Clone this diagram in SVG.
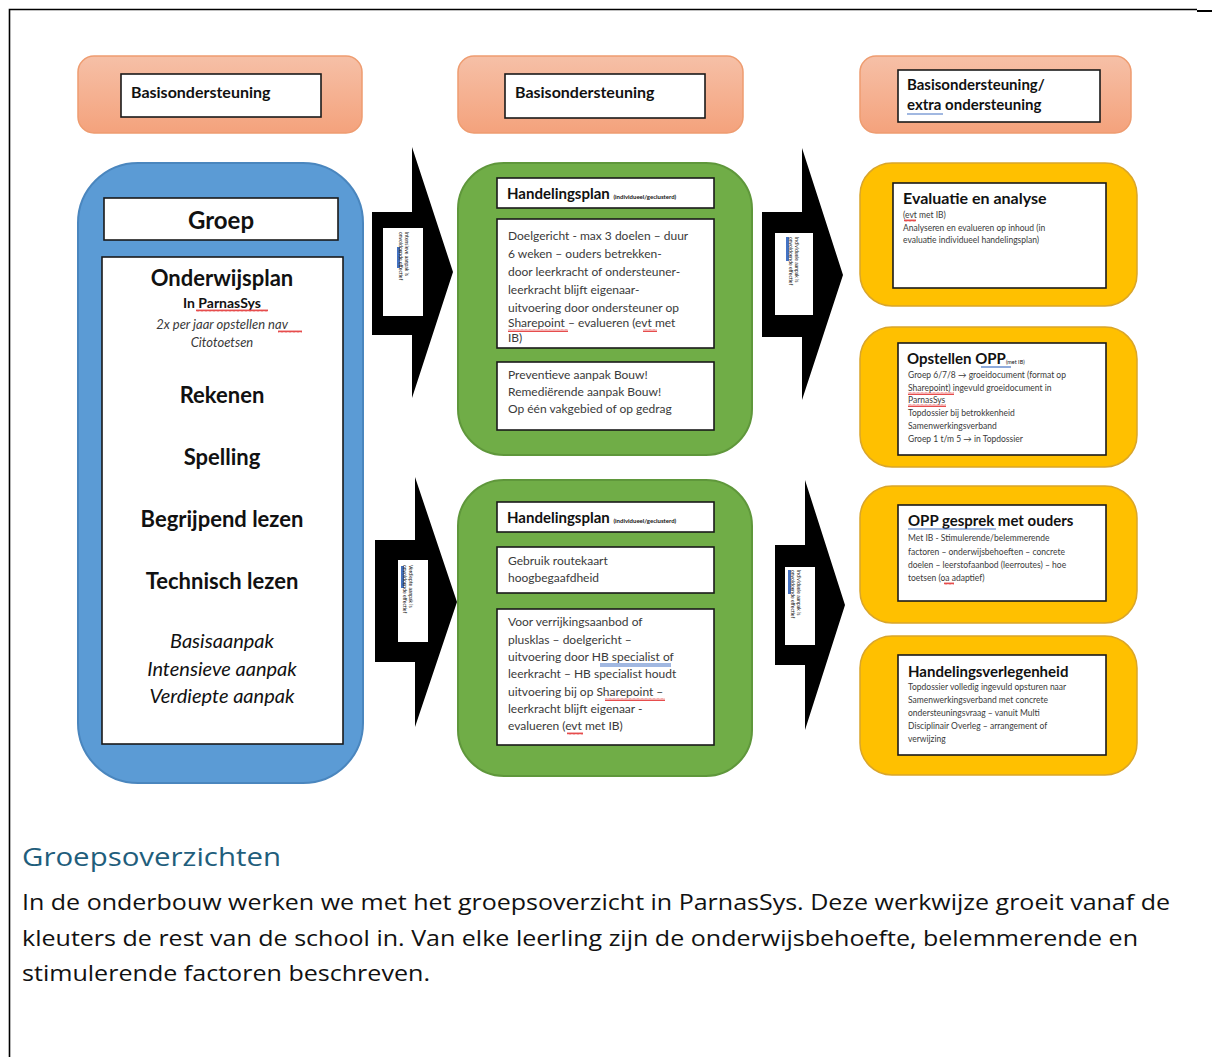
<svg xmlns="http://www.w3.org/2000/svg" width="1212" height="1057" viewBox="0 0 1212 1057">
<style>
.frame{stroke:#000;stroke-width:1.6;fill:none}
.hdr{fill:url(#orange);stroke:#EE9C70;stroke-width:1.5}
.wbox{fill:#fff;stroke:#1a1a1a;stroke-width:1.6}
.blue{fill:#5B9BD5;stroke:#4A86BE;stroke-width:2}
.green{fill:#70AD47;stroke:#5F973B;stroke-width:2}
.yellow{fill:#FFC000;stroke:#D9A52A;stroke-width:1.5}
.arrow{fill:#000}
.t{font-family:Lato,"Liberation Sans",sans-serif;fill:#111}
.b{font-weight:bold}
.i{font-style:italic}
.g{fill:#3a3a3a}
.sq{fill:url(#squig)}
.ul{stroke:#4472C4;stroke-width:1.2}
</style>
<defs>
<linearGradient id="orange" x1="0" y1="0" x2="0" y2="1">
<stop offset="0" stop-color="#F6C0A7"/>
<stop offset="1" stop-color="#F4A27C"/>
</linearGradient>
<pattern id="squig" width="4" height="3" patternUnits="userSpaceOnUse">
<path d="M0,2.5 L1,0.5 L2,2.5 L3,0.5 L4,2.5" stroke="#E02020" stroke-width="0.8" fill="none"/>
</pattern>
</defs>

<!-- page frame -->
<path class="frame" d="M9.5,1057 V9.5 H1197"/>
<path d="M1197,11 H1212" stroke="#000" stroke-width="2"/>

<!-- header nodes -->
<g id="hdr1">
<rect class="hdr" x="78" y="56" width="284" height="77" rx="16"/>
<rect class="wbox" x="121" y="74" width="200" height="43"/>
<text class="t b" x="131" y="98" font-size="16">Basisondersteuning</text>
</g>
<g id="hdr2">
<rect class="hdr" x="458" y="56" width="285" height="77" rx="16"/>
<rect class="wbox" x="505" y="74" width="200" height="44"/>
<text class="t b" x="515" y="98" font-size="16">Basisondersteuning</text>
</g>
<g id="hdr3">
<rect class="hdr" x="860" y="56" width="271" height="77" rx="16"/>
<rect class="wbox" x="898" y="70" width="202" height="52"/>
<text class="t b" x="907" y="90" font-size="15">Basisondersteuning/</text>
<text class="t b" x="907" y="110" font-size="15">extra ondersteuning</text>
<line class="ul" x1="907" y1="114" x2="943" y2="114"/>
</g>

<!-- left column -->
<g id="groep">
<rect class="blue" x="78" y="163" width="285" height="620" rx="60"/>
<rect class="wbox" x="104" y="198" width="234" height="42"/>
<text class="t b" x="221" y="229" font-size="24" text-anchor="middle">Groep</text>
</g>
<g id="onderwijsplan">
<rect class="wbox" x="102" y="257" width="241" height="487"/>
<text class="t b" x="222" y="286" font-size="22" text-anchor="middle">Onderwijsplan</text>
<text class="t b" x="222" y="308" font-size="14" text-anchor="middle">In ParnasSys</text>
<rect class="sq" x="196" y="309" width="72" height="3"/>
<text class="t i g" x="222" y="329" font-size="13" text-anchor="middle">2x per jaar opstellen nav</text>
<rect class="sq" x="278" y="330" width="24" height="3"/>
<text class="t i g" x="222" y="347" font-size="13" text-anchor="middle">Citotoetsen</text>
<text class="t b" x="222" y="403" font-size="22" text-anchor="middle">Rekenen</text>
<text class="t b" x="222" y="465" font-size="22" text-anchor="middle">Spelling</text>
<text class="t b" x="222" y="527" font-size="22" text-anchor="middle">Begrijpend lezen</text>
<text class="t b" x="222" y="589" font-size="22" text-anchor="middle">Technisch lezen</text>
<text class="t i" x="222" y="648" font-size="20" text-anchor="middle">Basisaanpak</text>
<text class="t i" x="222" y="676" font-size="20" text-anchor="middle">Intensieve aanpak</text>
<text class="t i" x="222" y="703" font-size="20" text-anchor="middle">Verdiepte aanpak</text>
</g>

<!-- middle top -->
<g id="hp1">
<rect class="green" x="458" y="163" width="294" height="292" rx="46"/>
<rect class="wbox" x="497" y="178" width="217" height="30"/>
<text class="t b" x="507" y="199" font-size="15">Handelingsplan <tspan font-size="6" font-weight="bold">(individueel/geclusterd)</tspan></text>
<rect class="wbox" x="497" y="219" width="217" height="129"/>
<g class="t g" font-size="12">
<text x="508" y="240">Doelgericht - max 3 doelen – duur</text>
<text x="508" y="258">6 weken – ouders betrekken-</text>
<text x="508" y="276">door leerkracht of ondersteuner-</text>
<text x="508" y="294">leerkracht blijft eigenaar-</text>
<text x="508" y="312">uitvoering door ondersteuner op</text>
<text x="508" y="327">Sharepoint – evalueren (evt met</text>
<text x="508" y="342">IB)</text>
</g>
<rect class="sq" x="508" y="329" width="60" height="3"/>
<rect class="sq" x="643" y="329" width="14" height="3"/>
<rect class="wbox" x="497" y="362" width="217" height="68"/>
<g class="t g" font-size="12">
<text x="508" y="379">Preventieve aanpak Bouw!</text>
<text x="508" y="396">Remediërende aanpak Bouw!</text>
<text x="508" y="413">Op één vakgebied of op gedrag</text>
</g>
</g>

<!-- middle bottom -->
<g id="hp2">
<rect class="green" x="458" y="480" width="294" height="296" rx="46"/>
<rect class="wbox" x="497" y="502" width="217" height="30"/>
<text class="t b" x="507" y="523" font-size="15">Handelingsplan <tspan font-size="6" font-weight="bold">(individueel/geclusterd)</tspan></text>
<rect class="wbox" x="497" y="547" width="217" height="46"/>
<g class="t g" font-size="12">
<text x="508" y="565">Gebruik routekaart</text>
<text x="508" y="582">hoogbegaafdheid</text>
</g>
<rect class="wbox" x="497" y="609" width="217" height="136"/>
<g class="t g" font-size="12">
<text x="508" y="626">Voor verrijkingsaanbod of</text>
<text x="508" y="644">plusklas – doelgericht –</text>
<text x="508" y="661">uitvoering door HB specialist of</text>
<text x="508" y="678">leerkracht – HB specialist houdt</text>
<text x="508" y="696">uitvoering bij op Sharepoint –</text>
<text x="508" y="713">leerkracht blijft eigenaar -</text>
<text x="508" y="730">evalueren (evt met IB)</text>
</g>
<line class="ul" x1="600" y1="664" x2="671" y2="664"/>
<line class="ul" x1="600" y1="666" x2="671" y2="666"/>
<rect class="sq" x="605" y="698" width="60" height="3"/>
<rect class="sq" x="567" y="732" width="16" height="3"/>
</g>

<!-- right column -->
<g id="evaluatie">
<rect class="yellow" x="860" y="163" width="277" height="143" rx="32"/>
<rect class="wbox" x="893" y="183" width="213" height="105"/>
<text class="t b" x="903" y="204" font-size="16">Evaluatie en analyse</text>
<g class="t g" font-size="8.5">
<text x="903" y="218">(evt met IB)</text>
<text x="903" y="231">Analyseren en evalueren op inhoud (in</text>
<text x="903" y="243">evaluatie individueel handelingsplan)</text>
</g>
<rect class="sq" x="904" y="219" width="12" height="3"/>
</g>
<g id="opp">
<rect class="yellow" x="860" y="327" width="277" height="140" rx="32"/>
<rect class="wbox" x="898" y="343" width="208" height="112"/>
<text class="t b" x="907" y="364" font-size="15">Opstellen OPP<tspan font-size="5.5" font-weight="normal">(met IB)</tspan></text>
<line class="ul" x1="981" y1="367" x2="1011" y2="367"/>
<g class="t g" font-size="8.5">
<text x="908" y="378">Groep 6/7/8 → groeidocument (format op</text>
<text x="908" y="391">Sharepoint) ingevuld groeidocument in</text>
<text x="908" y="403">ParnasSys</text>
<text x="908" y="416">Topdossier bij betrokkenheid</text>
<text x="908" y="429">Samenwerkingsverband</text>
<text x="908" y="442">Groep 1 t/m 5 → in Topdossier</text>
</g>
<rect class="sq" x="908" y="392" width="46" height="3"/>
<rect class="sq" x="908" y="404" width="38" height="3"/>
</g>
<g id="oppgesprek">
<rect class="yellow" x="860" y="486" width="277" height="137" rx="32"/>
<rect class="wbox" x="898" y="505" width="208" height="96"/>
<text class="t b" x="908" y="526" font-size="15">OPP gesprek met ouders</text>
<line class="ul" x1="908" y1="529" x2="996" y2="529"/>
<g class="t g" font-size="8.5">
<text x="908" y="541">Met IB - Stimulerende/belemmerende</text>
<text x="908" y="555">factoren – onderwijsbehoeften – concrete</text>
<text x="908" y="568">doelen – leerstofaanbod (leerroutes) – hoe</text>
<text x="908" y="581">toetsen (oa adaptief)</text>
</g>
<rect class="sq" x="944" y="582" width="10" height="3"/>
</g>
<g id="verlegenheid">
<rect class="yellow" x="860" y="636" width="277" height="139" rx="32"/>
<rect class="wbox" x="898" y="655" width="208" height="100"/>
<text class="t b" x="908" y="677" font-size="15">Handelingsverlegenheid</text>
<g class="t g" font-size="8.5">
<text x="908" y="690">Topdossier volledig ingevuld opsturen naar</text>
<text x="908" y="703">Samenwerkingsverband met concrete</text>
<text x="908" y="716">ondersteuningsvraag – vanuit Multi</text>
<text x="908" y="729">Disciplinair Overleg – arrangement of</text>
<text x="908" y="742">verwijzing</text>
</g>
</g>

<!-- connectors: block arrows -->
<g id="connectors">
<g id="arrow1">
<polygon class="arrow" points="372,212 412,212 412,147 453,272 412,398 412,335 372,335"/>
<rect x="383" y="228" width="40" height="88" fill="#fff"/>
<rect x="397" y="247" width="3" height="21" fill="#4472C4"/>
<text class="t" font-size="5" transform="translate(405,232) rotate(90)">Intensieve aanpak is</text>
<text class="t" font-size="5" transform="translate(399,232) rotate(90)">onvoldoende effectief</text>
</g>
<g id="arrow2">
<polygon class="arrow" points="375,540 415,540 415,477 457,602 415,727 415,662 375,662"/>
<rect x="398" y="560" width="30" height="82" fill="#fff"/>
<rect x="401" y="566" width="3" height="22" fill="#4472C4"/>
<text class="t" font-size="5" transform="translate(409,565) rotate(90)">Verdiepte aanpak is</text>
<text class="t" font-size="5" transform="translate(403,565) rotate(90)">onvoldoende effectief</text>
</g>
<g id="arrow3">
<polygon class="arrow" points="762,212 802,212 802,148 843,275 802,400 802,337 762,337"/>
<rect x="775" y="233" width="38" height="82" fill="#fff"/>
<rect x="786" y="237" width="3" height="24" fill="#4472C4"/>
<text class="t" font-size="5" transform="translate(795,237) rotate(90)">Individuele aanpak is</text>
<text class="t" font-size="5" transform="translate(789,237) rotate(90)">onvoldoende effectief</text>
</g>
<g id="arrow4">
<polygon class="arrow" points="775,545 805,545 805,480 845,605 805,730 805,665 775,665"/>
<rect x="785" y="567" width="30" height="78" fill="#fff"/>
<rect x="788" y="570" width="3" height="24" fill="#4472C4"/>
<text class="t" font-size="5" transform="translate(797,570) rotate(90)">Individuele aanpak is</text>
<text class="t" font-size="5" transform="translate(791,570) rotate(90)">onvoldoende effectief</text>
</g>
</g>

<!-- page text -->
<text x="22" y="866" font-family="'Open Sans','Noto Sans',sans-serif" font-size="26" fill="#1F5E7C" textLength="259" lengthAdjust="spacingAndGlyphs">Groepsoverzichten</text>
<g font-family="'Open Sans','Noto Sans',sans-serif" font-size="22" fill="#111">
<text x="22" y="910" textLength="1148" lengthAdjust="spacingAndGlyphs">In de onderbouw werken we met het groepsoverzicht in ParnasSys. Deze werkwijze groeit vanaf de</text>
<text x="22" y="946" textLength="1116" lengthAdjust="spacingAndGlyphs">kleuters de rest van de school in. Van elke leerling zijn de onderwijsbehoefte, belemmerende en</text>
<text x="22" y="981" textLength="408" lengthAdjust="spacingAndGlyphs">stimulerende factoren beschreven.</text>
</g>
</svg>
